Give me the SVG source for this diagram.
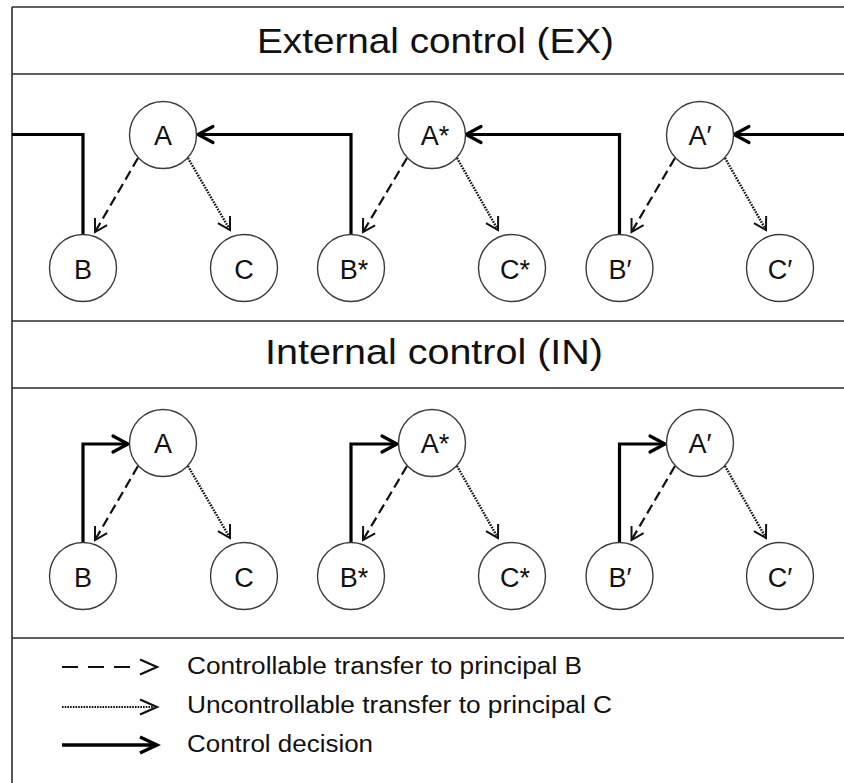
<svg xmlns="http://www.w3.org/2000/svg" width="844" height="783" viewBox="0 0 844 783">
  <style>
    .frame { stroke: #2b2b2b; stroke-width: 1.6; fill: none; }
    .node circle { fill: #ffffff; stroke: #3c3c3c; stroke-width: 1.4; }
    .node text { font-family: "Liberation Sans", Arial, sans-serif; font-size: 27px; fill: #111; text-anchor: middle; }
    .title { font-family: "Liberation Sans", Arial, sans-serif; font-size: 35px; fill: #111; }
    .legend-text { font-family: "Liberation Sans", Arial, sans-serif; font-size: 23px; fill: #111; }
    .ctrl { stroke: #000; stroke-width: 3.2; fill: none; }
    .dash { stroke: #111; stroke-width: 2.2; fill: none; stroke-dasharray: 10 5; }
    .dot { stroke: #111; stroke-width: 2.4; fill: none; stroke-dasharray: 1.6 1.2; }
    .head-ctrl { stroke: #000; stroke-width: 3.2; fill: none; stroke-linecap: round; stroke-linejoin: miter; }
    .head-thin { stroke: #111; stroke-width: 2; fill: none; stroke-dasharray: none; }
  </style>
  <defs>
    <marker id="arrow-ctrl" markerUnits="userSpaceOnUse" orient="auto" refX="0" refY="0" markerWidth="20" markerHeight="20" overflow="visible">
      <path class="head-ctrl" d="M-15,-8 L0,0 L-15,8"/>
    </marker>
    <marker id="arrow-thin" markerUnits="userSpaceOnUse" orient="auto" refX="0" refY="0" markerWidth="16" markerHeight="16" overflow="visible">
      <path class="head-thin" d="M-12,-7 L0,0 L-12,7"/>
    </marker>
  </defs>

  <rect width="844" height="783" fill="#ffffff"/>

  <!-- panel frame and section dividers -->
  <g id="frame">
    <line class="frame" x1="12" y1="7" x2="844" y2="7"/>
    <line class="frame" x1="12" y1="7" x2="12" y2="783"/>
    <line class="frame" x1="12" y1="74" x2="844" y2="74"/>
    <line class="frame" x1="12" y1="321" x2="844" y2="321"/>
    <line class="frame" x1="12" y1="388" x2="844" y2="388"/>
    <line class="frame" x1="12" y1="638" x2="844" y2="638"/>
  </g>

  <g id="titles">
    <text class="title" x="257" y="53" textLength="357" lengthAdjust="spacingAndGlyphs">External control (EX)</text>
    <text class="title" x="265" y="364" textLength="338" lengthAdjust="spacingAndGlyphs">Internal control (IN)</text>
  </g>

  <!-- connectors -->
  <g id="connectors">
    <!-- external control decisions (wrap around the panel) -->
    <path class="ctrl" d="M83,234.5 V134.5 H12"/>
    <path class="ctrl" d="M351,234.5 V134.5 H198" marker-end="url(#arrow-ctrl)"/>
    <path class="ctrl" d="M619.5,234.5 V134.5 H466" marker-end="url(#arrow-ctrl)"/>
    <path class="ctrl" d="M844,134.5 H734" marker-end="url(#arrow-ctrl)"/>

    <!-- external transfers -->
    <path class="dash" d="M138,158 L95,232" marker-end="url(#arrow-thin)"/>
    <path class="dot" d="M188,158 L230,230" marker-end="url(#arrow-thin)"/>
    <path class="dash" d="M407,158 L363,232" marker-end="url(#arrow-thin)"/>
    <path class="dot" d="M457,158 L498,230" marker-end="url(#arrow-thin)"/>
    <path class="dash" d="M675,158 L631.5,232" marker-end="url(#arrow-thin)"/>
    <path class="dot" d="M725,158 L766,230" marker-end="url(#arrow-thin)"/>

    <!-- internal control decisions -->
    <path class="ctrl" d="M83,542.5 V444 H128" marker-end="url(#arrow-ctrl)"/>
    <path class="ctrl" d="M351,542.5 V444 H397" marker-end="url(#arrow-ctrl)"/>
    <path class="ctrl" d="M619.5,542.5 V444 H665" marker-end="url(#arrow-ctrl)"/>

    <!-- internal transfers -->
    <path class="dash" d="M138,466 L95,540" marker-end="url(#arrow-thin)"/>
    <path class="dot" d="M188,466 L230,538" marker-end="url(#arrow-thin)"/>
    <path class="dash" d="M407,466 L363,540" marker-end="url(#arrow-thin)"/>
    <path class="dot" d="M457,466 L498,538" marker-end="url(#arrow-thin)"/>
    <path class="dash" d="M675,466 L631.5,540" marker-end="url(#arrow-thin)"/>
    <path class="dot" d="M725,466 L766,538" marker-end="url(#arrow-thin)"/>
  </g>

  <!-- external control nodes -->
  <g id="ex-A" class="node"><circle cx="163" cy="135" r="33.5"/><text x="163" y="145">A</text></g>
  <g id="ex-B" class="node"><circle cx="83" cy="268" r="33.5"/><text x="83" y="279">B</text></g>
  <g id="ex-C" class="node"><circle cx="244" cy="268" r="33.5"/><text x="244" y="279">C</text></g>
  <g id="ex-A-star" class="node"><circle cx="432" cy="135" r="33.5"/><text x="435" y="145">A*</text></g>
  <g id="ex-B-star" class="node"><circle cx="351" cy="268" r="33.5"/><text x="354" y="279">B*</text></g>
  <g id="ex-C-star" class="node"><circle cx="512" cy="268" r="33.5"/><text x="515" y="279">C*</text></g>
  <g id="ex-A-prime" class="node"><circle cx="700" cy="135" r="33.5"/><text x="700" y="145">A′</text></g>
  <g id="ex-B-prime" class="node"><circle cx="619.5" cy="268" r="33.5"/><text x="620" y="279">B′</text></g>
  <g id="ex-C-prime" class="node"><circle cx="780" cy="268" r="33.5"/><text x="780" y="279">C′</text></g>

  <!-- internal control nodes -->
  <g id="in-A" class="node"><circle cx="163" cy="443" r="33.5"/><text x="163" y="453">A</text></g>
  <g id="in-B" class="node"><circle cx="83" cy="576" r="33.5"/><text x="83" y="587">B</text></g>
  <g id="in-C" class="node"><circle cx="244" cy="576" r="33.5"/><text x="244" y="587">C</text></g>
  <g id="in-A-star" class="node"><circle cx="432" cy="443" r="33.5"/><text x="435" y="453">A*</text></g>
  <g id="in-B-star" class="node"><circle cx="351" cy="576" r="33.5"/><text x="354" y="587">B*</text></g>
  <g id="in-C-star" class="node"><circle cx="512" cy="576" r="33.5"/><text x="515" y="587">C*</text></g>
  <g id="in-A-prime" class="node"><circle cx="700" cy="443" r="33.5"/><text x="700" y="453">A′</text></g>
  <g id="in-B-prime" class="node"><circle cx="619.5" cy="576" r="33.5"/><text x="620" y="587">B′</text></g>
  <g id="in-C-prime" class="node"><circle cx="780" cy="576" r="33.5"/><text x="780" y="587">C′</text></g>

  <!-- legend -->
  <g id="legend">
    <path d="M62,667 H140" stroke="#111" stroke-width="2.2" stroke-dasharray="16 10" fill="none"/>
    <path d="M140,659.5 L157,667 L140,674.5" stroke="#111" stroke-width="2.2" fill="none"/>
    <text class="legend-text" x="187" y="674" textLength="395" lengthAdjust="spacingAndGlyphs">Controllable transfer to principal B</text>

    <path d="M62,707 H153" stroke="#111" stroke-width="2.2" stroke-dasharray="1.6 1.1" fill="none"/>
    <path d="M140,699.5 L157,707 L140,714.5" stroke="#111" stroke-width="2.2" fill="none"/>
    <text class="legend-text" x="187" y="713" textLength="425" lengthAdjust="spacingAndGlyphs">Uncontrollable transfer to principal C</text>

    <path d="M62,745 H155" stroke="#000" stroke-width="3.4" fill="none"/>
    <path d="M140,737 L157,745 L140,753" stroke="#000" stroke-width="3.4" fill="none"/>
    <text class="legend-text" x="187" y="752" textLength="186" lengthAdjust="spacingAndGlyphs">Control decision</text>
  </g>
</svg>
